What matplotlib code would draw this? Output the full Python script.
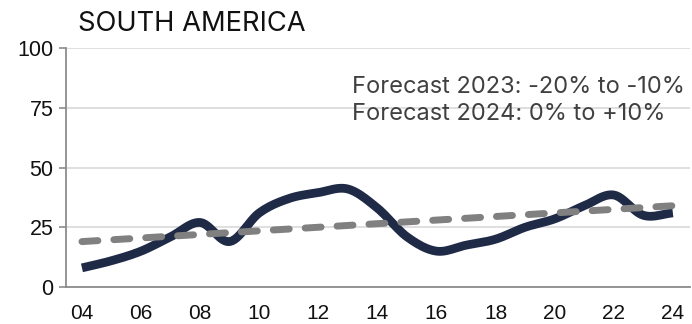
import matplotlib.pyplot as plt
import numpy as np

years = np.arange(2004, 2025)
index_values = [8, 11, 15, 21, 27, 19, 31, 37, 39.5, 41, 33, 21, 15, 17.5, 20,
                25, 28.5, 34, 38.5, 30, 31]
trend_start, trend_end = 19, 34
tick_years = np.arange(2004, 2025, 2)
tick_labels = [f"{y % 100:02d}" for y in tick_years]
forecast_lines = ["Forecast 2023: -20% to -10%", "Forecast 2024: 0% to +10%"]


def smooth(x, y, n=12):
    # Catmull-Rom curve through the yearly points, only for drawing
    x = np.asarray(x, float)
    y = np.asarray(y, float)
    px = np.concatenate([[2 * x[0] - x[1]], x, [2 * x[-1] - x[-2]]])
    py = np.concatenate([[2 * y[0] - y[1]], y, [2 * y[-1] - y[-2]]])
    xs, ys = [], []
    t = np.linspace(0, 1, n, endpoint=False)
    for i in range(1, len(px) - 2):
        for p, out in ((px, xs), (py, ys)):
            p0, p1, p2, p3 = p[i - 1], p[i], p[i + 1], p[i + 2]
            out.extend(0.5 * (2 * p1 + (-p0 + p2) * t
                              + (2 * p0 - 5 * p1 + 4 * p2 - p3) * t ** 2
                              + (-p0 + 3 * p1 - 3 * p2 + p3) * t ** 3))
    xs.append(x[-1])
    ys.append(y[-1])
    return np.array(xs), np.array(ys)


fig = plt.figure(figsize=(6.92, 3.24), dpi=100)
ax = fig.add_axes([66 / 692, 1 - 287 / 324, (690 - 66) / 692, (287 - 48) / 324])

ax.set_xlim(2003.46, 2024.58)
ax.set_ylim(0, 100)
ax.set_yticks([0, 25, 50, 75, 100])
ax.set_xticks(tick_years)
ax.set_xticklabels(tick_labels)

ax.grid(axis="y", color="#d9d9d9", linewidth=1.2)
ax.set_axisbelow(True)
for side in ("top", "right"):
    ax.spines[side].set_visible(False)
for side in ("left", "bottom"):
    ax.spines[side].set_color("#8c8c8c")
    ax.spines[side].set_linewidth(1.3)

ax.tick_params(axis="y", length=5, width=1.2, color="#8c8c8c", labelsize=15.5,
               labelcolor="#111111", pad=4)
ax.tick_params(axis="x", length=0, labelsize=15, labelcolor="#111111", pad=12)
for lab in ax.get_xticklabels() + ax.get_yticklabels():
    lab.set_fontfamily("Liberation Sans")

sx, sy = smooth(years, index_values)
ax.plot(sx, sy, color="#1f2a47", linewidth=6.3, solid_capstyle="butt",
        solid_joinstyle="round", zorder=3)

trend = np.linspace(trend_start, trend_end, len(years))
ax.plot(years, trend, color="#808080", linewidth=5, dashes=(2.3, 2.3),
        dash_capstyle="round", zorder=4)

fig.text(78 / 692, 1 - 31 / 324, "SOUTH AMERICA", fontsize=19.7,
         family="Inter", color="#111111", va="baseline")
# forecast notes, left-aligned block in the upper right
for line, base_px in zip(forecast_lines, (93, 120)):
    fig.text(352 / 692, 1 - base_px / 324, line, ha="left", va="baseline",
             fontsize=17, family="Inter", color="#404040")

fig.savefig("out.png", dpi=100)
